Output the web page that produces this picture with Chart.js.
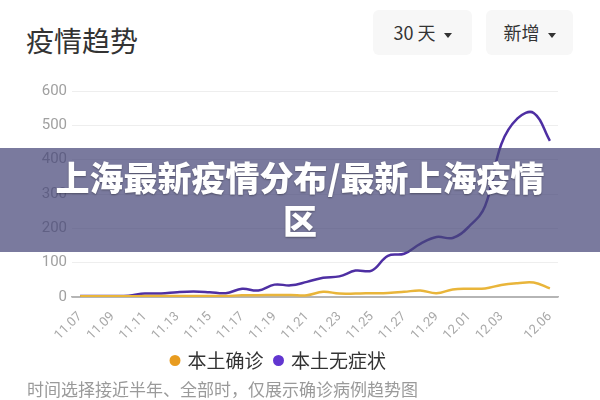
<!DOCTYPE html>
<html>
<head>
<meta charset="utf-8">
<script src="https://cdn.jsdelivr.net/npm/chart.js@4"></script>
<style>
    body {
        margin: 0;
        width: 600px;
        height: 400px;
        background: #fff;
        position: relative;
        overflow: hidden;
        font-family: "Noto Sans CJK SC", "Noto Sans", sans-serif;
    }

    .title {
        position: absolute;
        left: 26px;
        top: 25px;
        font-size: 28px;
        line-height: 30px;
        color: #333;
    }

    .btn {
        position: absolute;
        top: 10px;
        height: 45px;
        background: #f7f7f7;
        border-radius: 6px;
        font-size: 18px;
        line-height: 45px;
        color: #333;
        text-align: center;
    }

    .btn .arrow {
        display: inline-block;
        width: 0;
        height: 0;
        margin-left: 8px;
        vertical-align: middle;
        border-left: 4px solid transparent;
        border-right: 4px solid transparent;
        border-top: 5px solid #333;
    }

    .chart-box {
        position: absolute;
        left: 0;
        top: 62px;
        width: 600px;
        height: 318px;
    }

    .note {
        position: absolute;
        left: 27px;
        top: 379px;
        font-size: 17px;
        line-height: 20px;
        color: #9a9a9a;
    }

    .banner {
        position: absolute;
        left: 0;
        top: 148px;
        width: 600px;
        height: 104px;
        background: rgba(70, 70, 120, 0.72);
    }

    .banner-text {
        position: absolute;
        left: 0;
        top: 155px;
        width: 600px;
        text-align: center;
        font-size: 34px;
        line-height: 43px;
        font-weight: 900;
        color: #fff;
        text-shadow: 0 1px 2px rgba(0, 0, 0, 0.35);
    }
</style>
</head>
<body>

<div class="title">疫情趋势</div>
<div class="btn" style="left:373px;width:99px;">30 天<span class="arrow"></span></div>
<div class="btn" style="left:486px;width:87px;">新增<span class="arrow"></span></div>

<div class="chart-box">
    <canvas id="trendChart"></canvas>
</div>

<div class="note">时间选择接近半年、全部时，仅展示确诊病例趋势图</div>

<div class="banner"></div>
<div class="banner-text">上海最新疫情分布/最新上海疫情<br>区</div>

<script>
// tanggal 11.07 - 12.06
const dates = [
    '11.07', '11.08', '11.09', '11.10', '11.11', '11.12', '11.13', '11.14',
    '11.15', '11.16', '11.17', '11.18', '11.19', '11.20', '11.21', '11.22',
    '11.23', '11.24', '11.25', '11.26', '11.27', '11.28', '11.29', '11.30',
    '12.01', '12.02', '12.03', '12.04', '12.05', '12.06'
];

// label yang tampil di sumbu x
const shownDates = [
    '11.07', '11.09', '11.11', '11.13', '11.15', '11.17', '11.19', '11.21',
    '11.23', '11.25', '11.27', '11.29', '12.01', '12.03', '12.06'
];

const confirmed = [
    2, 2, 2, 2, 3, 3, 3, 3, 3, 3,
    5, 5, 6, 6, 5, 15, 10, 10, 11, 12,
    15, 19, 11, 22, 24, 25, 35, 40, 42, 25
];

const asymptomatic = [
    3, 3, 3, 4, 10, 10, 14, 16, 14, 11,
    24, 19, 36, 34, 44, 56, 60, 77, 77, 120,
    126, 155, 175, 172, 205, 265, 445, 520, 536, 455
];

const yTicks = [0, 100, 200, 300, 400, 500, 600];

const ctx = document.getElementById('trendChart');

const trendChart = new Chart(ctx, {

    type: 'line',

    data: {
        labels: dates,

        datasets: [
            {
                label: '本土确诊',
                data: confirmed,
                borderColor: '#e9b53a',
                borderWidth: 2.5,
                pointRadius: 0,
                pointBackgroundColor: '#e89c20',
                pointBorderColor: '#e89c20',
                tension: 0.4
            },
            {
                label: '本土无症状',
                data: asymptomatic,
                borderColor: '#4e2fa3',
                borderWidth: 2.5,
                pointRadius: 0,
                pointBackgroundColor: '#6236d0',
                pointBorderColor: '#6236d0',
                tension: 0.4
            }
        ]
    },

    options: {

        responsive: true,
        maintainAspectRatio: false,
        animation: false,

        layout: {
            padding: {
                top: 29,
                right: 42,
                bottom: 0,
                left: 0
            }
        },

        plugins: {

            legend: {
                position: 'bottom',
                labels: {
                    usePointStyle: true,
                    pointStyle: 'circle',
                    boxWidth: 6,
                    boxHeight: 6,
                    padding: 12,
                    color: '#333',
                    font: {
                        family: '"Noto Sans CJK SC", sans-serif',
                        size: 19
                    }
                }
            },

            tooltip: {
                enabled: false
            }
        },

        scales: {

            x: {
                offset: true,

                grid: {
                    display: false
                },

                border: {
                    color: '#b5b5b5',
                    width: 1.5
                },

                ticks: {
                    autoSkip: false,
                    maxRotation: 45,
                    minRotation: 45,
                    padding: 4,
                    color: '#a8a8a8',
                    font: {
                        family: 'Roboto, sans-serif',
                        size: 13
                    },
                    callback: function (value, index) {
                        const label = dates[index];
                        return shownDates.includes(label) ? label : '';
                    }
                },

                afterFit: function (scale) {
                    scale.height = 42;
                }
            },

            y: {
                min: 0,
                max: 600,

                afterBuildTicks: function (scale) {
                    scale.ticks = yTicks.map(v => ({ value: v }));
                },

                afterFit: function (scale) {
                    scale.width = 72;
                },

                border: {
                    display: false
                },

                grid: {
                    drawTicks: false,
                    color: function (c) {
                        return c.tick && c.tick.value === 0 ? '#b5b5b5' : '#eeeeee';
                    }
                },

                ticks: {
                    padding: 5,
                    color: '#a0a0a0',
                    font: {
                        family: 'Roboto, sans-serif',
                        size: 15
                    }
                }
            }
        }
    }
});
</script>
</body>
</html>
